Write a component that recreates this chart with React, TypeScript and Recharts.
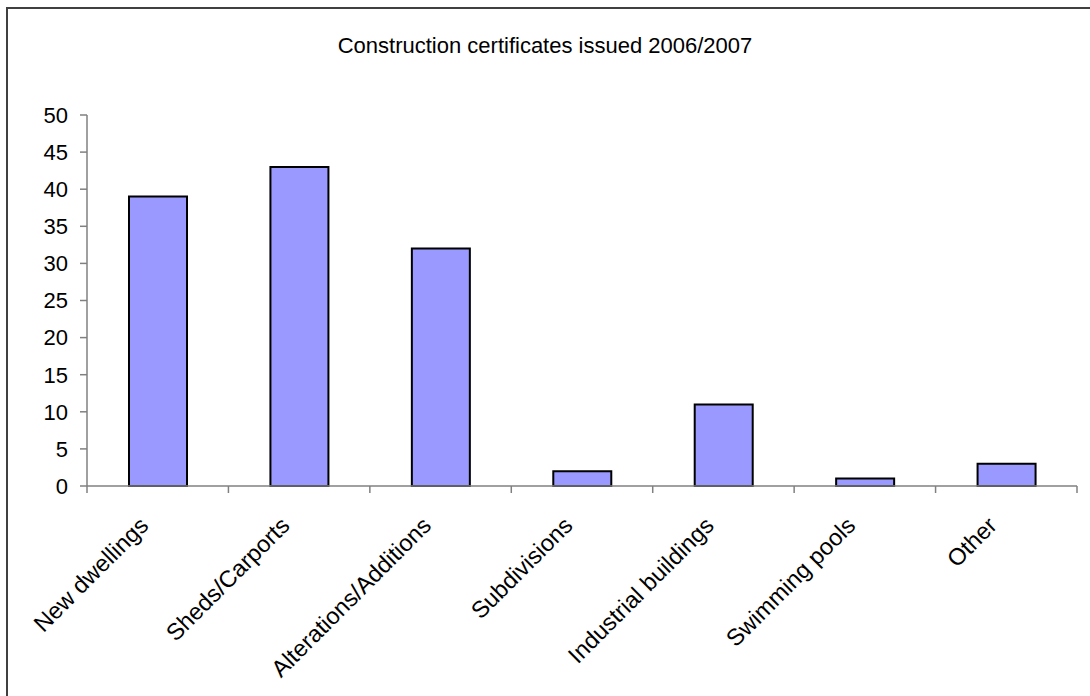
import React from "react"
import { Bar, BarChart, XAxis, YAxis } from "recharts"

// Certificates issued per building category, 2006/2007
const categories = [
  "New dwellings",
  "Sheds/Carports",
  "Alterations/Additions",
  "Subdivisions",
  "Industrial buildings",
  "Swimming pools",
  "Other",
]
const issued = [39, 43, 32, 2, 11, 1, 3]
const yTicks = [0, 5, 10, 15, 20, 25, 30, 35, 40, 45, 50]

const data = categories.map((name, i) => ({ name, issued: issued[i] }))

const W = 1090
const H = 696
const MARGIN = { top: 115, right: 13, bottom: 10, left: 27 }
const Y_AXIS_W = 60
// width of one category band, so tick marks can sit between the bars
const BAND = (W - MARGIN.left - MARGIN.right - Y_AXIS_W) / categories.length

const FONT = "'Liberation Sans', Arial, sans-serif"
const AXIS = "#808080"

function SlantedTick({ x, y, payload, index }: any) {
  const left = x - BAND / 2
  const right = x + BAND / 2
  const tx = x - 8
  const ty = y + 41
  return (
    <g>
      <line x1={left} y1={y} x2={left} y2={y + 7} stroke={AXIS} strokeWidth={1.5} />
      {index === categories.length - 1 && (
        <line x1={right} y1={y} x2={right} y2={y + 7} stroke={AXIS} strokeWidth={1.5} />
      )}
      <text
        x={tx}
        y={ty}
        transform={`rotate(-45, ${tx}, ${ty})`}
        textAnchor="end"
        fontSize={23.5}
        fontFamily={FONT}
        fill="#000"
      >
        {payload.value}
      </text>
    </g>
  )
}

export default function App() {
  return (
    <div style={{ position: "absolute", left: 0, top: 0, width: W, height: H, overflow: "hidden", background: "#fff" }}>
      <div
        style={{
          position: "absolute",
          left: 6,
          top: 7,
          width: 1200,
          height: 800,
          border: "2px solid #404040",
          boxSizing: "border-box",
        }}
      />
      <div
        style={{
          position: "absolute",
          left: 0,
          top: 35,
          width: W,
          textAlign: "center",
          fontFamily: FONT,
          fontSize: 22,
          lineHeight: "22px",
          color: "#000",
        }}
      >
        Construction certificates issued 2006/2007
      </div>
      <div style={{ position: "absolute", left: 0, top: 0 }}>
        <BarChart width={W} height={H} data={data} margin={MARGIN}>
          <XAxis
            dataKey="name"
            height={200}
            interval={0}
            tickSize={0}
            tickMargin={0}
            tickLine={false}
            axisLine={{ stroke: AXIS, strokeWidth: 1.5 }}
            tick={<SlantedTick />}
          />
          <YAxis
            domain={[0, 50]}
            ticks={yTicks}
            interval={0}
            width={Y_AXIS_W}
            tickSize={7}
            tickMargin={12}
            axisLine={{ stroke: AXIS, strokeWidth: 1.5 }}
            tickLine={{ stroke: AXIS, strokeWidth: 1.5 }}
            tick={{ fontSize: 22, fontFamily: FONT, fill: "#000" }}
          />
          <Bar dataKey="issued" fill="#9999FF" stroke="#000" strokeWidth={2} barSize={58} isAnimationActive={false} />
        </BarChart>
      </div>
    </div>
  )
}
